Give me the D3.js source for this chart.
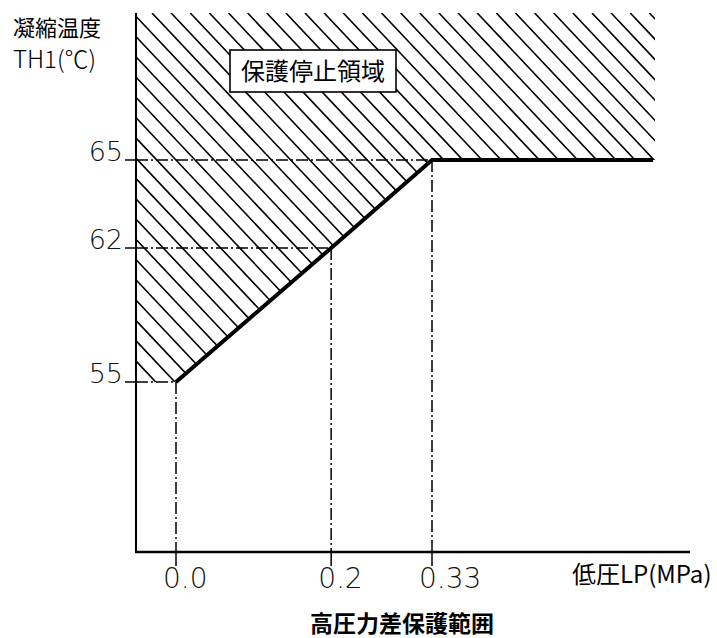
<!DOCTYPE html>
<html>
<head>
<meta charset="utf-8">
<script src="https://cdn.jsdelivr.net/npm/d3@7/dist/d3.min.js"></script>
<style>
  html, body { margin: 0; padding: 0; background: #fff; }
  svg { display: block; }
</style>
</head>
<body>
<script>
// ---- data ----
const lpValues = [0.0, 0.2, 0.33];          // 低圧LP (MPa)
const thValues = [55, 62, 65];              // 凝縮温度 TH1 (℃)
const xTickLabels = ["0.0", "0.2", "0.33"];
const yTickLabels = ["55", "62", "65"];
const yTitleLines = ["凝縮温度", "TH1(℃)"];
const xTitle = "低圧LP(MPa)";
const regionLabel = "保護停止領域";
const chartTitle = "高圧力差保護範囲";

// ---- layout ----
const W = 717, H = 638;
const plot = { left: 136, right: 690, top: 13, bottom: 552 };
const hatchRight = 655, lineRight = 653;
const tickOut = 11;

const svg = d3.select("body").append("svg").attr("width", W).attr("height", H);

const x = d3.scaleLinear().domain([lpValues[0], lpValues[2]]).range([176, 432]);
const y = d3.scaleLinear().domain(thValues).range([382, 248, 160]);

const CJK = "'Noto Sans CJK JP', 'Noto Sans', sans-serif";
const NUM = "'DejaVu Sans', 'Liberation Sans', sans-serif";
const dashDot = "12,3,2,3";

// ---- hatched protection region ----
const pts = lpValues.map((v, i) => [x(v), y(thValues[i])]);
const poly = [
  [plot.left, plot.top], [hatchRight, plot.top], [hatchRight, y(thValues[2])],
  pts[2], pts[1], pts[0], [plot.left, y(thValues[0])]
];
svg.append("clipPath").attr("id", "hclip")
  .append("path").attr("d", "M" + poly.map(p => p.join(",")).join("L") + "Z");

const slope = 1.06, spacing = 19.13, phase = 152;
const hatch = svg.append("g").attr("clip-path", "url(#hclip)");
const hLines = d3.range(-30, 40).map(k => phase + k * spacing);
hatch.selectAll("line").data(hLines).join("line")
  .attr("x1", d => d).attr("y1", plot.top)
  .attr("x2", d => d + (plot.bottom - plot.top) / slope).attr("y2", plot.bottom)
  .attr("stroke", "#000").attr("stroke-width", 1.6);

// ---- guide (dash-dot) lines ----
const guides = svg.append("g").attr("fill", "none").attr("stroke", "#000").attr("stroke-width", 1.5);
lpValues.forEach((v, i) => {
  guides.append("line").attr("x1", plot.left - tickOut).attr("x2", plot.left)
    .attr("y1", y(thValues[i])).attr("y2", y(thValues[i]));
  guides.append("line").attr("x1", plot.left).attr("x2", x(v))
    .attr("y1", y(thValues[i])).attr("y2", y(thValues[i]))
    .attr("stroke-dasharray", dashDot);
  guides.append("line").attr("x1", x(v)).attr("x2", x(v))
    .attr("y1", y(thValues[i])).attr("y2", plot.bottom)
    .attr("stroke-dasharray", dashDot);
  guides.append("line").attr("x1", x(v)).attr("x2", x(v))
    .attr("y1", plot.bottom).attr("y2", plot.bottom + 14);
});

// ---- axes ----
svg.append("line").attr("x1", plot.left).attr("x2", plot.left)
  .attr("y1", plot.top).attr("y2", plot.bottom)
  .attr("stroke", "#000").attr("stroke-width", 2);
svg.append("line").attr("x1", plot.left - 1).attr("x2", plot.right)
  .attr("y1", plot.bottom).attr("y2", plot.bottom)
  .attr("stroke", "#000").attr("stroke-width", 2.6);

// ---- boundary line ----
const lineData = lpValues.map((v, i) => ({ lp: v, th: thValues[i] }));
lineData.push({ lp: x.invert(lineRight), th: thValues[2] });
svg.append("path").datum(lineData)
  .attr("d", d3.line().x(d => x(d.lp)).y(d => y(d.th)))
  .attr("fill", "none").attr("stroke", "#000").attr("stroke-width", 4)
  .attr("stroke-linejoin", "miter");

// ---- tick labels ----
svg.append("g").selectAll("text").data(yTickLabels).join("text")
  .attr("x", plot.left - 13).attr("y", (d, i) => y(thValues[i]) + 1)
  .attr("text-anchor", "end")
  .style("font-family", NUM).style("font-size", "27px").style("font-weight", 300)
  .style("fill", "#111")
  .text(d => d);

svg.append("g").selectAll("text").data(xTickLabels).join("text")
  .attr("x", (d, i) => x(lpValues[i]) - 13).attr("y", plot.bottom + 36)
  .attr("text-anchor", "start")
  .style("font-family", NUM).style("font-size", "28px").style("font-weight", 300)
  .style("fill", "#111")
  .text(d => d);

// ---- titles ----
svg.append("text").attr("x", 13).attr("y", 35.5)
  .style("font-family", CJK).style("font-size", "22px").text(yTitleLines[0]);
svg.append("text").attr("x", 13).attr("y", 68)
  .style("font-family", CJK).style("font-size", "24px").style("font-weight", 300).text(yTitleLines[1]);

svg.append("text").attr("x", 572).attr("y", 583)
  .style("font-family", CJK).style("font-size", "24px").text(xTitle);

svg.append("text").attr("x", 402).attr("y", 632).attr("text-anchor", "middle")
  .style("font-family", CJK).style("font-size", "23px").style("font-weight", 700)
  .text(chartTitle);

// ---- region label ----
const box = { x: 230, y: 50, w: 166, h: 42 };
svg.append("rect").attr("x", box.x).attr("y", box.y).attr("width", box.w).attr("height", box.h)
  .attr("fill", "#fff").attr("stroke", "#000").attr("stroke-width", 1.6);
svg.append("text").attr("x", box.x + box.w / 2).attr("y", box.y + 30)
  .attr("text-anchor", "middle")
  .style("font-family", CJK).style("font-size", "24px").text(regionLabel);
</script>
</body>
</html>
